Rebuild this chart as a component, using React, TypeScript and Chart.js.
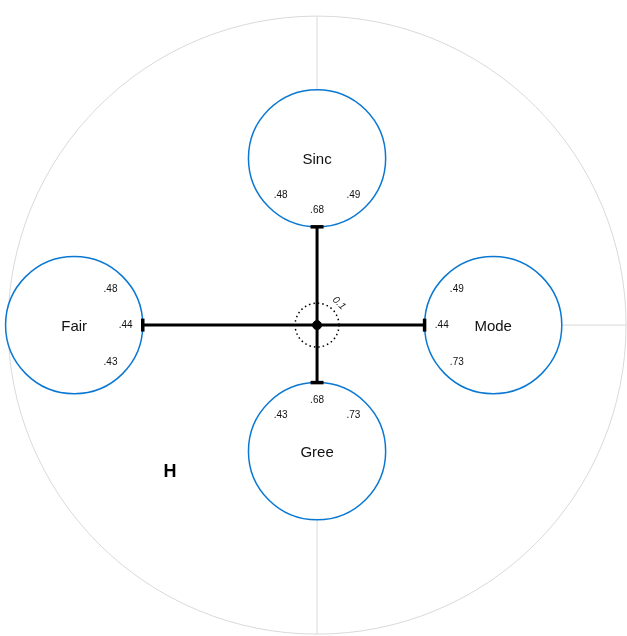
import React, { useEffect, useRef } from "react";
import { Chart, registerables } from "chart.js";

Chart.register(...registerables);

// ---- data ----
const nodeLabels = ["Sinc", "Fair", "Mode", "Gree"];
const nodeX = [0, -0.786, 0.57, 0];
const nodeY = [0.54, 0, 0, -0.408];
const nodeRadius = 0.222;
const loadings = [".68", ".44", ".44", ".68"];
const corrFrom = [0, 0, 1, 2];
const corrTo = [1, 2, 3, 3];
const corrValues = [".48", ".49", ".43", ".73"];
const residualLabel = "0.1";
const residualRadius = 0.071;
const groupLabel = "H";
const groupX = -0.476;
const groupY = -0.474;

const FONT = "'Liberation Sans', Arial, Helvetica, sans-serif";
const BLUE = "#0a78d2";

const diagramPlugin = {
  id: "diagram",
  beforeDatasetsDraw(chart: any) {
    const ctx: CanvasRenderingContext2D = chart.ctx;
    const xs = chart.scales.x;
    const ys = chart.scales.y;
    const px = (v: number) => xs.getPixelForValue(v);
    const py = (v: number) => ys.getPixelForValue(v);
    const unit = Math.abs(px(1) - px(0));
    const cx = px(0);
    const cy = py(0);

    ctx.save();
    // outer circle + axes
    ctx.strokeStyle = "#d9d9d9";
    ctx.lineWidth = 1;
    ctx.beginPath();
    ctx.arc(cx, cy, unit, 0, Math.PI * 2);
    ctx.stroke();
    ctx.beginPath();
    ctx.moveTo(px(-1), cy);
    ctx.lineTo(px(1), cy);
    ctx.moveTo(cx, py(1));
    ctx.lineTo(cx, py(-1));
    ctx.stroke();

    const r = nodeRadius * unit;

    // node circles
    nodeLabels.forEach((lab, i) => {
      const nx = px(nodeX[i]);
      const ny = py(nodeY[i]);
      ctx.beginPath();
      ctx.arc(nx, ny, r, 0, Math.PI * 2);
      ctx.fillStyle = "#fff";
      ctx.fill();
      ctx.strokeStyle = BLUE;
      ctx.lineWidth = 1.5;
      ctx.stroke();
      ctx.fillStyle = "#111";
      ctx.font = `15px ${FONT}`;
      ctx.textAlign = "center";
      ctx.textBaseline = "middle";
      ctx.fillText(lab, nx, ny + 1.5);
      // loading text toward center
      const a = Math.atan2(cy - ny, cx - nx);
      ctx.font = `10px ${FONT}`;
      ctx.fillText(loadings[i], nx + Math.cos(a) * r * 0.75, ny + Math.sin(a) * r * 0.75 + 0.5);
    });

    // spokes
    ctx.strokeStyle = "#000";
    nodeLabels.forEach((_, i) => {
      const nx = px(nodeX[i]);
      const ny = py(nodeY[i]);
      const dx = cx - nx;
      const dy = cy - ny;
      const d = Math.hypot(dx, dy);
      const ux = dx / d;
      const uy = dy / d;
      const ex = nx + ux * r;
      const ey = ny + uy * r;
      ctx.lineWidth = 3;
      ctx.beginPath();
      ctx.moveTo(cx, cy);
      ctx.lineTo(ex, ey);
      ctx.stroke();
      // cap
      ctx.lineWidth = 3.5;
      ctx.beginPath();
      ctx.moveTo(ex - uy * 6.5, ey + ux * 6.5);
      ctx.lineTo(ex + uy * 6.5, ey - ux * 6.5);
      ctx.stroke();
    });

    // correlation labels
    corrValues.forEach((val, k) => {
      const pair = [
        [corrFrom[k], corrTo[k]],
        [corrTo[k], corrFrom[k]],
      ];
      pair.forEach(([i, j]) => {
        const nx = px(nodeX[i]);
        const ny = py(nodeY[i]);
        const a = Math.atan2(cy - ny, cx - nx);
        const b = Math.atan2(py(nodeY[j]) - ny, px(nodeX[j]) - nx);
        let diff = b - a;
        while (diff > Math.PI) diff -= Math.PI * 2;
        while (diff < -Math.PI) diff += Math.PI * 2;
        const ang = a + Math.sign(diff) * (Math.PI / 4);
        ctx.fillStyle = "#111";
        ctx.font = `10px ${FONT}`;
        ctx.textAlign = "center";
        ctx.textBaseline = "middle";
        ctx.fillText(val, nx + Math.cos(ang) * r * 0.75, ny + Math.sin(ang) * r * 0.75 + 0.5);
      });
    });

    // residual dotted circle
    const rr = residualRadius * unit;
    ctx.strokeStyle = "#000";
    ctx.lineWidth = 1.5;
    ctx.setLineDash([1.5, 3]);
    ctx.beginPath();
    ctx.arc(cx, cy, rr, 0, Math.PI * 2);
    ctx.stroke();
    ctx.setLineDash([]);
    ctx.save();
    const la = -Math.PI / 4;
    ctx.translate(cx + Math.cos(la) * (rr + 9), cy + Math.sin(la) * (rr + 9));
    ctx.rotate(Math.PI / 4);
    ctx.font = `italic 10px ${FONT}`;
    ctx.fillStyle = "#222";
    ctx.textAlign = "center";
    ctx.textBaseline = "middle";
    ctx.fillText(residualLabel, 0, 0);
    ctx.restore();

    // group label
    ctx.fillStyle = "#000";
    ctx.font = `bold 18px ${FONT}`;
    ctx.textAlign = "center";
    ctx.textBaseline = "middle";
    ctx.fillText(groupLabel, px(groupX), py(groupY));
    ctx.restore();
  },
};

export default function App() {
  const ref = useRef<HTMLCanvasElement | null>(null);
  useEffect(() => {
    if (!ref.current) return;
    const chart = new Chart(ref.current, {
      type: "scatter",
      data: {
        datasets: [
          {
            data: [{ x: 0, y: 0 }],
            pointRadius: 4.5,
            pointBackgroundColor: "#000",
            pointBorderColor: "#000",
          },
        ],
      },
      options: {
        animation: false,
        responsive: false,
        devicePixelRatio: 1,
        layout: { padding: 0, autoPadding: false },
        plugins: { legend: { display: false }, tooltip: { enabled: false } },
        scales: {
          x: { type: "linear", min: -1.026, max: 1.003, display: false },
          y: { type: "linear", min: -1.006, max: 1.052, display: false },
        },
      },
      plugins: [diagramPlugin],
    });
    return () => chart.destroy();
  }, []);
  return (
    <div style={{ position: "absolute", left: 0, top: 0, width: 627, height: 636, background: "#fff" }}>
      <canvas ref={ref} width={627} height={636} style={{ display: "block" }} />
    </div>
  );
}
